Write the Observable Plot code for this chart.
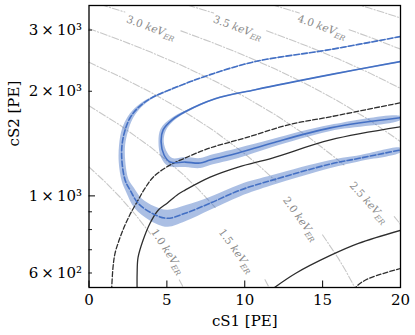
<!DOCTYPE html>
<html><head><meta charset="utf-8">
<script src="https://cdn.jsdelivr.net/npm/d3@7"></script>
<script src="https://cdn.jsdelivr.net/npm/@observablehq/plot@0.6"></script>
<style>body{margin:0;background:#fff}</style>
</head><body><div id="chart"></div>
<script>
// ---------- ticks ----------
const xTicks = [0, 5, 10, 15, 20];
const yLabelTicks = [600, 1000, 2000, 3000];
const yTickLabels = ["6\u2009×\u200910²", "1\u2009×\u200910³", "2\u2009×\u200910³", "3\u2009×\u200910³"];
const yMajorTicks = [1000];
const yMinorTicks = [600, 700, 800, 900, 2000, 3000];

// ---------- iso-energy lines [cS1, cS2] (segments broken at labels) ----------
const iso10a = [[0,1211],[1,1101],[2,991],[3,881],[3.95,777]];
const iso10b = [[5.8,573],[6.0,551],[6.2,529]];
const iso15a = [[0,1817],[2,1597],[4,1377],[6,1157],[7,1047],[8.1,926]];
const iso15b = [[11.3,574],[11.6,541],[11.9,508]];
const iso20a = [[0,2422],[2,2202],[4,1982],[6,1762],[8,1542],[10,1322],[11,1212],[12,1102]];
const iso20b = [[15,772],[16,662],[16.5,607],[17,552],[17.3,519]];
const iso25a = [[0,3028],[2,2808],[4,2588],[6,2368],[8,2148],[10,1928],[12,1708],[14,1488],[16,1268],[16.4,1224]];
const iso25b = [[19.6,872],[20,828],[20.3,795]];
const iso30a = [[0,3633],[1,3523],[2.3,3380]];
const iso30b = [[5.9,2984],[8,2753],[10,2533],[12,2313],[14,2093],[16,1873],[18,1653],[20,1433],[20.3,1400]];
const iso35a = [[5.6,3623],[8.0,3359]];
const iso35b = [[11.4,2985],[12,2919],[14,2699],[16,2479],[18,2259],[20,2039],[20.3,2006]];
const iso40a = [[11,3634],[13.5,3359]];
const iso40b = [[16.7,3007],[18,2864],[20,2644],[20.3,2611]];
const iso45 = [[17,3580],[18,3470],[19,3360],[20,3250],[20.3,3217]];

// energy labels
const energyNames = ["1.0", "1.5", "2.0", "2.5", "3.0", "3.5", "4.0"];
const energyLabelS1 = [5.05, 9.44, 13.57, 17.96, 3.98, 9.55, 14.96];
const energyLabelS2 = [692, 695, 859, 956, 3047, 3047, 3066];
const energyLabelAngle = [57, 54, 54, 48, 20, 20, 20];

// ---------- blue contours ----------
const outerLine = [[20,2875],[15.5,2637],[10.68,2435],[7.78,2233],[5.85,2076],[3.92,1903],[3.15,1793],[2.64,1678],[2.32,1548],[2.12,1401],[2.12,1251],[2.32,1110],[2.64,1039],[3.15,953],[4.05,891],[5.02,862],[6.17,891],[7.78,953],[9.71,1039],[11.77,1110],[15.5,1235],[17.43,1285],[20,1356]];
const outerBandA = [[20,2884],[15.5,2646],[10.68,2443],[7.78,2240],[5.85,2085],[3.90,1916],[3.07,1811],[2.50,1695],[2.12,1559],[1.93,1401],[1.91,1247],[2.10,1103],[2.41,1020],[2.92,923],[3.91,850],[5.02,815],[6.17,845],[7.78,912],[9.71,998],[11.77,1074],[15.5,1202],[17.43,1260],[20,1338]];
const outerBandB = [[20,2866],[15.5,2629],[10.68,2427],[7.78,2225],[5.85,2065],[3.95,1891],[3.23,1775],[2.78,1659],[2.51,1538],[2.32,1401],[2.33,1256],[2.53,1117],[2.87,1057],[3.38,983],[4.19,934],[5.02,912],[6.17,940],[7.78,995],[9.71,1081],[11.77,1148],[15.5,1268],[17.43,1311],[20,1374]];

const innerLine = [[20,2435],[15.5,2233],[10.68,2021],[8.10,1903],[6.17,1746],[5.34,1655],[4.76,1548],[4.63,1429],[4.82,1311],[5.21,1251],[6.17,1251],[7.14,1243],[7.78,1268],[9.58,1329],[11.77,1420],[15.5,1569],[20,1678]];
const innerBandA = [[20,2444],[15.5,2242],[10.68,2029],[8.10,1912],[6.15,1757],[5.27,1672],[4.60,1559],[4.46,1429],[4.63,1290],[5.08,1218],[6.17,1210],[7.14,1202],[7.78,1227],[9.58,1285],[11.77,1383],[15.5,1538],[20,1655]];
const innerBandB = [[20,2425],[15.5,2224],[10.68,2013],[8.10,1894],[6.20,1734],[5.40,1639],[4.92,1538],[4.80,1429],[5.02,1333],[5.34,1285],[6.17,1294],[7.14,1285],[7.78,1311],[9.58,1374],[11.77,1458],[15.5,1601],[20,1694]];

// ---------- black contours ----------
const blackDashedA = [[1.45,534],[1.54,622],[1.67,683],[1.93,745],[2.25,812],[2.64,885],[3.15,972],[3.60,1053],[4.12,1132],[5.08,1218],[6.17,1285],[7.78,1374],[10.03,1468],[12.80,1601],[15.5,1689],[20,1853]];
const blackSolidA = [[3.09,534],[3.09,598],[3.15,665],[3.47,745],[3.92,834],[4.44,909],[5.02,953],[5.72,1011],[6.17,1039],[7.78,1132],[9.58,1210],[11.77,1285],[15.5,1449],[20,1580]];
const blackSolidB = [[11.64,534],[13.25,598],[15.5,674],[17.30,730],[20,796]];
const blackDashedB = [[16.98,534],[17.23,552],[17.94,578],[20,618]];

// ---------- build tables ----------
const rows = (pts, key = 0) => pts.map(([s1, s2]) => ({s1, s2, key}));
const isoSegs = [iso10a, iso10b, iso15a, iso15b, iso20a, iso20b, iso25a, iso25b, iso30a, iso30b, iso35a, iso35b, iso40a, iso40b, iso45];
const isoRows = isoSegs.flatMap((s, i) => rows(s, i));
const poly = (a, b) => rows(a.concat(b.slice().reverse()));
const labelRows = energyNames.map((t, i) => ({t: t + " keV_ER", s1: energyLabelS1[i], s2: energyLabelS2[i], r: energyLabelAngle[i]}));

const BLUE = "#4470c4", DARK = "#2e2e2e";
const xy = {x: "s1", y: "s2"};

const plot = Plot.plot({
  width: 415, height: 335,
  marginLeft: 88.5, marginRight: 15, marginTop: 5, marginBottom: 48,
  style: {fontFamily: "DejaVu Serif", fontSize: "15px", background: "white", color: "black"},
  x: {domain: [0, 20], axis: null},
  y: {type: "log", domain: [545, 3530], axis: null},
  marks: [
    Plot.line(isoRows, {...xy, z: "key", stroke: "#c8c8c8", strokeWidth: 1.1, strokeDasharray: "7,2,1.2,2", clip: true}),
    Plot.text(labelRows, {...xy, text: "t", rotate: "r", fill: "#8a8a8a", fontSize: 10.5, textAnchor: "middle", lineAnchor: "middle"}),
    Plot.line(poly(outerBandA, outerBandB), {...xy, fill: BLUE, fillOpacity: 0.45, stroke: "none", curve: "catmull-rom", clip: true}),
    Plot.line(poly(innerBandA, innerBandB), {...xy, fill: BLUE, fillOpacity: 0.45, stroke: "none", curve: "catmull-rom", clip: true}),
    Plot.line(rows(blackDashedA), {...xy, stroke: DARK, strokeWidth: 1.3, strokeDasharray: "4.8,2.2", curve: "catmull-rom", clip: true}),
    Plot.line(rows(blackDashedB), {...xy, stroke: DARK, strokeWidth: 1.3, strokeDasharray: "4.8,2.2", curve: "catmull-rom", clip: true}),
    Plot.line(rows(blackSolidA), {...xy, stroke: DARK, strokeWidth: 1.3, curve: "catmull-rom", clip: true}),
    Plot.line(rows(blackSolidB), {...xy, stroke: DARK, strokeWidth: 1.3, curve: "catmull-rom", clip: true}),
    Plot.line(rows(outerLine), {...xy, stroke: BLUE, strokeWidth: 1.6, strokeDasharray: "5.5,2.4", curve: "catmull-rom", clip: true}),
    Plot.line(rows(innerLine), {...xy, stroke: BLUE, strokeWidth: 1.6, curve: "catmull-rom", clip: true}),
    // ticks (inward)
    Plot.tickX(xTicks, {x: d => d, insetTop: 275.5, stroke: "black", strokeWidth: 1}),
    Plot.tickY(yMajorTicks, {y: d => d, insetRight: 305, stroke: "black", strokeWidth: 1}),
    Plot.tickY(yMinorTicks, {y: d => d, insetRight: 308, stroke: "black", strokeWidth: 0.9}),
    // tick labels
    Plot.text(xTicks, {x: d => d, frameAnchor: "bottom", dy: 7, lineAnchor: "top", text: d => String(d), fontSize: 15, fill: "black"}),
    Plot.text(yLabelTicks, {y: d => d, frameAnchor: "left", dx: -7, textAnchor: "end", lineAnchor: "middle", text: (d, i) => yTickLabels[i], fontSize: 15, fill: "black"}),
    // axis labels
    Plot.text(["cS1 [PE]"], {frameAnchor: "bottom", dy: 33.4, lineAnchor: "middle", text: d => d, fontSize: 15, fill: "black"}),
    Plot.text(["cS2 [PE]"], {frameAnchor: "left", dx: -75, rotate: -90, lineAnchor: "middle", text: d => d, fontSize: 15, fill: "black"}),
    Plot.frame({stroke: "black", strokeWidth: 1.3})
  ]
});

// subscripts for energy labels
plot.querySelectorAll("text").forEach(el => {
  const m = /^(\d\.\d) keV_ER$/.exec(el.textContent);
  if (!m) return;
  el.textContent = m[1] + " ";
  const ns = "http://www.w3.org/2000/svg";
  const t1 = document.createElementNS(ns, "tspan");
  t1.setAttribute("font-style", "italic");
  t1.textContent = "keV";
  const t2 = document.createElementNS(ns, "tspan");
  t2.setAttribute("font-style", "italic");
  t2.setAttribute("font-size", "7.5");
  t2.setAttribute("dy", "2.5");
  t2.textContent = "ER";
  el.appendChild(t1); el.appendChild(t2);
});

document.getElementById("chart").appendChild(plot);
</script>
</body></html>
